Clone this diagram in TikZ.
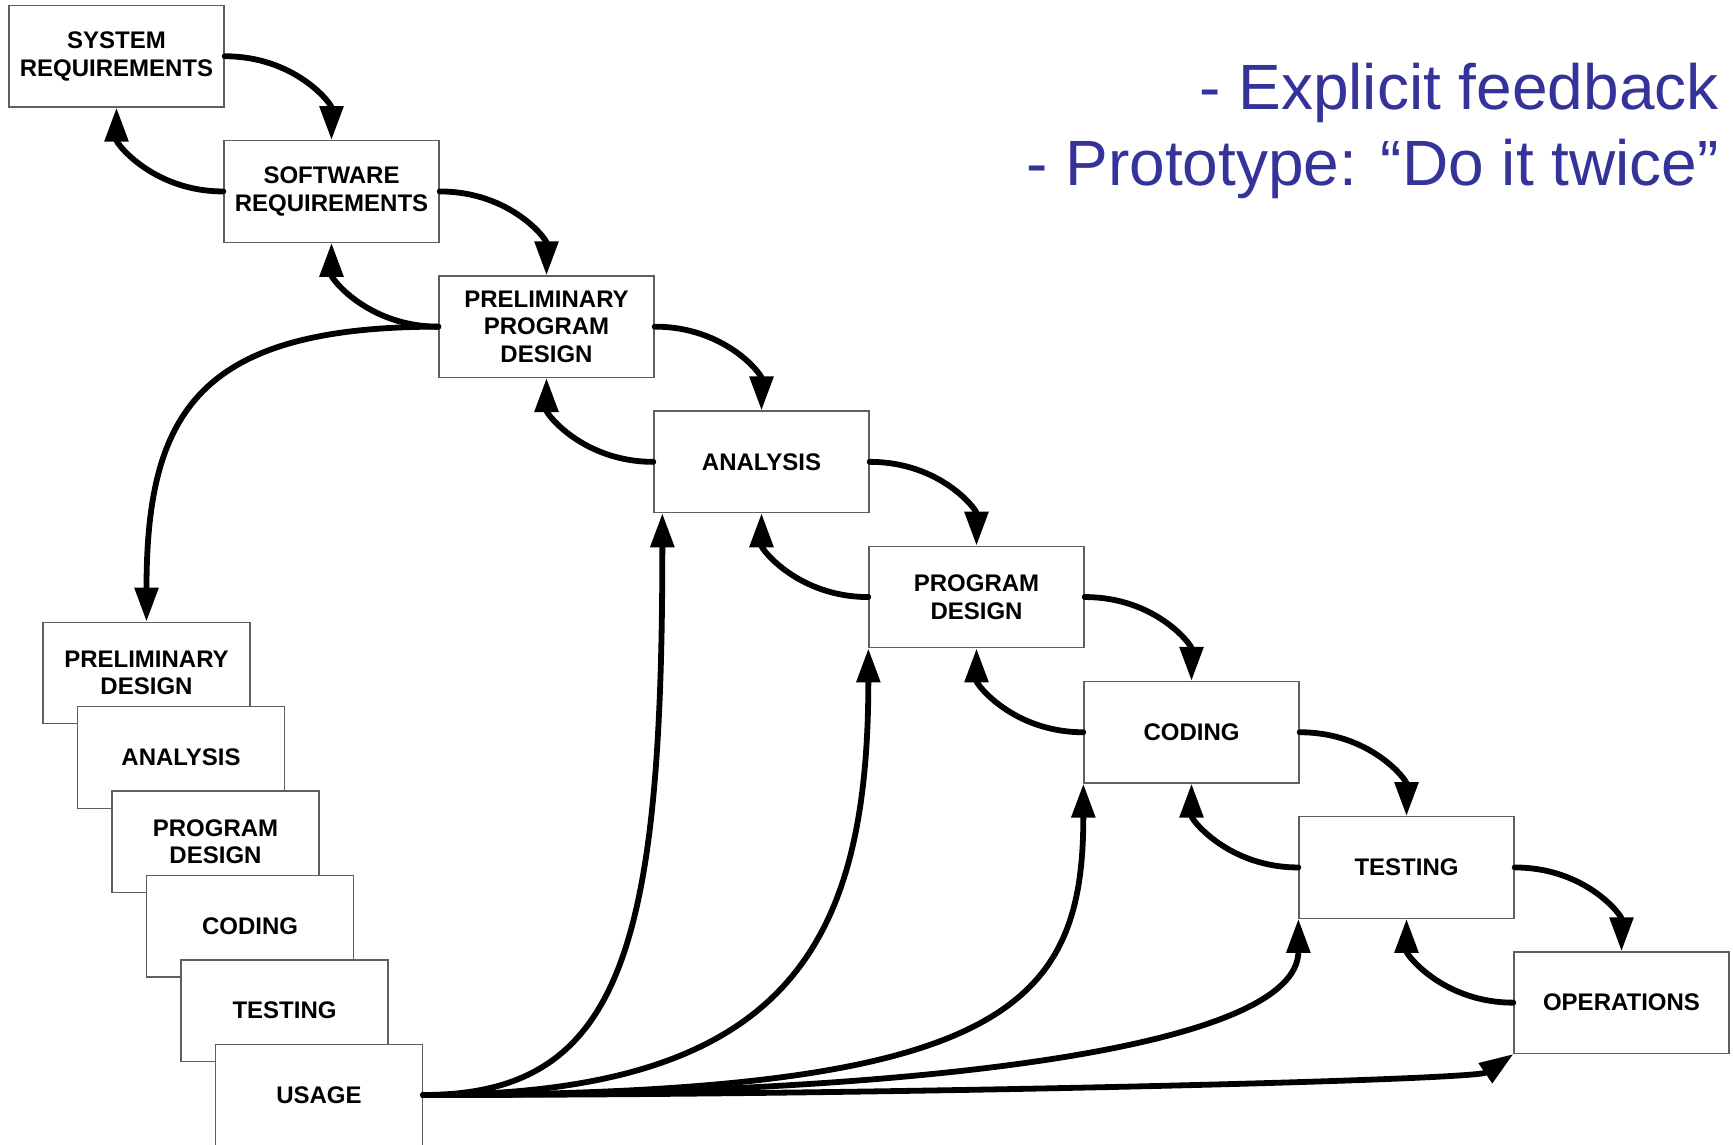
\documentclass[tikz,border=0pt]{standalone}
\usepackage{fontspec}
\setmainfont{Liberation Sans}
\usetikzlibrary{arrows.meta,calc}
\definecolor{noteblue}{RGB}{51,51,153}
\definecolor{boxline}{RGB}{95,95,95}
\begin{document}
\begin{tikzpicture}[x=1pt,y=-1pt,
  phase/.style={draw=boxline,line width=1.3pt,fill=white,
    minimum width=215pt,minimum height=101.5pt,inner sep=0pt,
    align=center,font=\fontsize{24}{27.5}\selectfont\bfseries},
  stackbox/.style={phase,minimum width=207pt},
  flow/.style={line width=5.8pt,line cap=round,
    -{Triangle[length=34pt,width=23pt]}},
  note/.style={text=noteblue,font=\fontsize{64}{76}\selectfont,
    anchor=base east,inner sep=0pt}
]
\useasboundingbox (0,0) rectangle (1733,1144);
\clip (0,0) rectangle (1733,1144);

% main waterfall
\node[phase] (sysreq)  at (116.5,56.25)   {SYSTEM\\REQUIREMENTS};
\node[phase] (swreq)   at (331.5,191.45)  {SOFTWARE\\REQUIREMENTS};
\node[phase] (ppd)     at (546.5,326.65)  {PRELIMINARY\\PROGRAM\\DESIGN};
\node[phase] (analysis) at (761.5,461.85) {ANALYSIS};
\node[phase] (progdes) at (976.5,597.05)  {PROGRAM\\DESIGN};
\node[phase] (coding)  at (1191.5,732.25) {CODING};
\node[phase] (testing) at (1406.5,867.45) {TESTING};
\node[phase] (ops)     at (1621.5,1002.65) {OPERATIONS};

% prototype run ("do it twice")
\node[stackbox] (spd)   at (146.5,673)    {PRELIMINARY\\DESIGN};
\node[stackbox] (sana)  at (181,757.4)    {ANALYSIS};
\node[stackbox] (sprog) at (215.5,841.8)  {PROGRAM\\DESIGN};
\node[stackbox] (scode) at (250,926.2)    {CODING};
\node[stackbox] (stest) at (284.5,1010.6) {TESTING};
\node[stackbox] (usage) at (319,1095)     {USAGE};

% notes
\node[note] (fb1) at (1719,109) {- Explicit feedback};
\node[note] (fb2) at (1719,185) {- Prototype: “Do it twice”};

% forward steps
\foreach \a/\b in {sysreq/swreq,swreq/ppd,ppd/analysis,analysis/progdes,
                   progdes/coding,coding/testing,testing/ops}
  \draw[flow] (\a.east) .. controls +(71,0) and +(0,-36) .. (\b.north);

% feedback to the previous step
\foreach \a/\b in {swreq/sysreq,ppd/swreq,analysis/ppd,progdes/analysis,
                   coding/progdes,testing/coding,ops/testing}
  \draw[flow] (\a.west) .. controls +(-70,0) and +(0,36) .. (\b.south);

% into the prototype
\draw[flow] (ppd.west) .. controls +(-239,0) and +(0,-210) .. (spd.north);

% usage feeds every later phase
\coordinate (ain) at ($(analysis.south west)+(9,0)$);
\draw[flow] (usage.east) .. controls +(198,0) and +(0,436) .. (ain);
\draw[flow] (usage.east) .. controls +(359,0) and +(0,303) .. (progdes.south west);
\draw[flow] (usage.east) .. controls +(579,0) and +(0,226) .. (coding.south west);
\draw[flow] (usage.east) .. controls +(529,0) and +(0,125) .. (testing.south west);
\draw[flow] (usage.east) .. controls +(479,0) and +(-38,26) .. (ops.south west);
\end{tikzpicture}
\end{document}
